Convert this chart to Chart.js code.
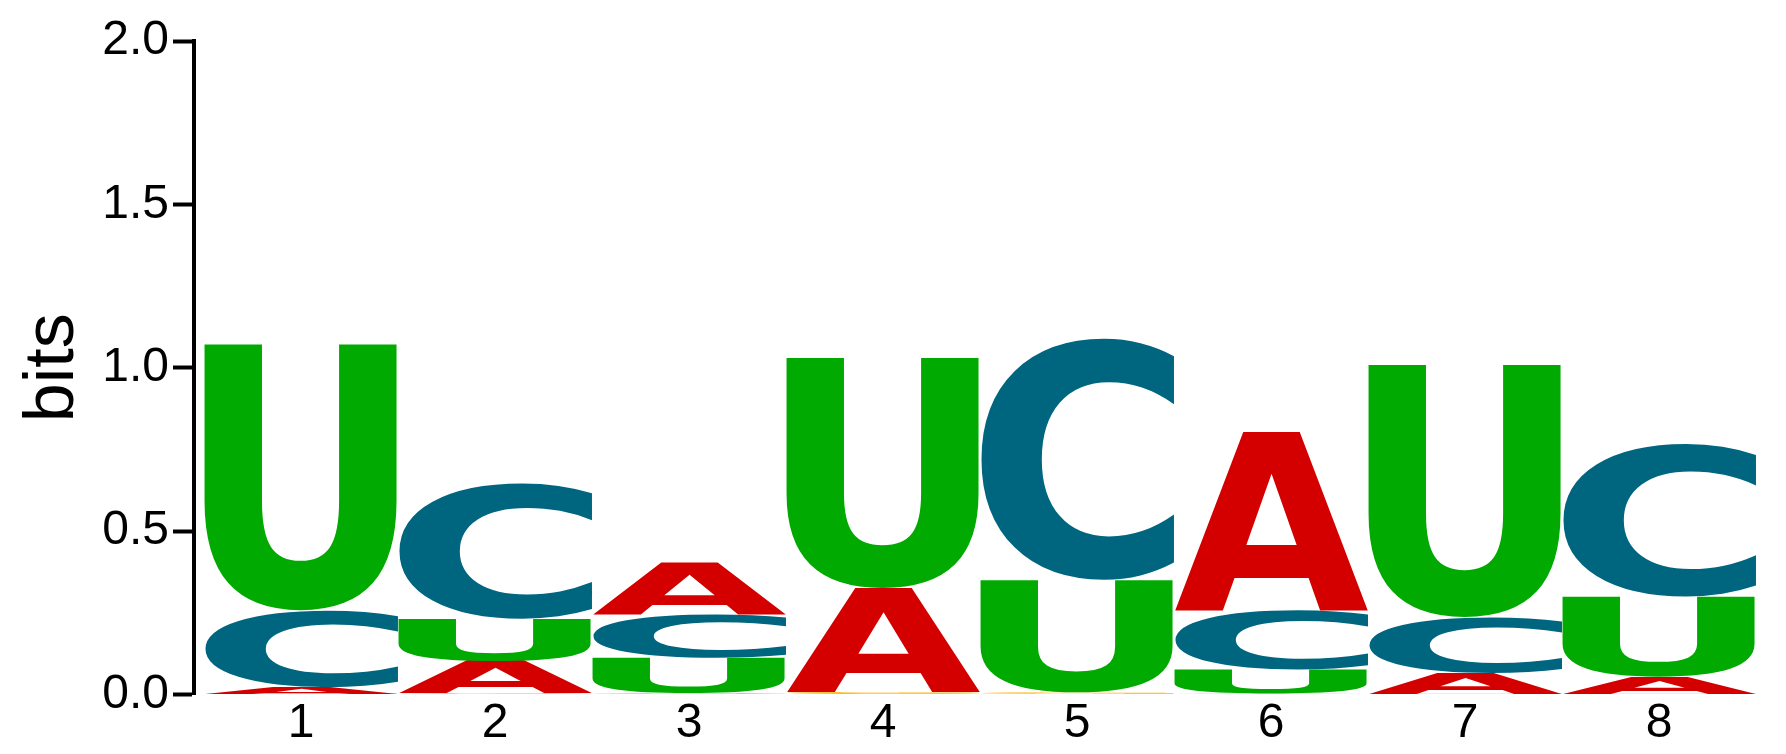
<!DOCTYPE html>
<html>
<head>
<meta charset="utf-8">
<script src="https://cdn.jsdelivr.net/npm/chart.js@4.4.1/dist/chart.umd.min.js"></script>
<style>
  html, body { margin: 0; padding: 0; background: #fff; }
  #wrap { width: 1786px; height: 754px; position: relative; }
</style>
</head>
<body>
<div id="wrap"><canvas id="logo"></canvas></div>
<script>
// positions along the motif
const positions = [1, 2, 3, 4, 5, 6, 7, 8];
const tickLabels = ["1", "2", "3", "4", "5", "6", "7", "8"];

// letter heights in bits, per position
const bitsA = [0.020, 0.098, 0.158, 0.318, 0.002, 0.545, 0.063, 0.052];
const bitsC = [0.235, 0.416, 0.133, 0.003, 0.741, 0.182, 0.171, 0.469];
const bitsG = [0.002, 0.004, 0.004, 0.004, 0.004, 0.003, 0.002, 0.002];
const bitsU = [0.815, 0.129, 0.108, 0.706, 0.344, 0.073, 0.773, 0.245];

const letterColors = { A: "#d40000", C: "#006680", G: "#ffb300", U: "#00aa00" };

const heights = { A: bitsA, C: bitsC, G: bitsG, U: bitsU };
const letters = Object.keys(heights);

// smallest letter at the bottom, biggest on top
const ranked = positions.map((p, i) =>
    letters.map(l => ({ l: l, v: heights[l][i] })).sort((a, b) => a.v - b.v)
);

const datasets = letters.map((_, r) => ({
    label: "rank " + r,
    data: positions.map((p, i) => ({ x: p, y: ranked[i][r].v })),
    letters: positions.map((p, i) => ranked[i][r].l),
    backgroundColor: "rgba(0,0,0,0)",
    borderWidth: 0,
    barPercentage: 1,
    categoryPercentage: 1
}));

const LETTER_FONT = 'bold 200px "DejaVu Sans", sans-serif';
const AXIS_FONT = '"Liberation Sans", Arial, sans-serif';

// draws every bar as a letter stretched to fill its box
const letterPlugin = {
    id: "logoLetters",
    afterDatasetsDraw(chart) {
        const ctx = chart.ctx;
        ctx.save();
        ctx.font = LETTER_FONT;
        ctx.textAlign = "left";
        ctx.textBaseline = "alphabetic";
        chart.data.datasets.forEach((ds, di) => {
            const meta = chart.getDatasetMeta(di);
            meta.data.forEach((el, j) => {
                const p = el.getProps(["x", "y", "base", "width"], true);
                const top = Math.min(p.y, p.base);
                const h = Math.abs(p.base - p.y);
                if (h <= 0) return;
                const ch = ds.letters[j];
                const m = ctx.measureText(ch);
                const gw = m.actualBoundingBoxLeft + m.actualBoundingBoxRight;
                const gh = m.actualBoundingBoxAscent + m.actualBoundingBoxDescent;
                ctx.save();
                ctx.translate(p.x - p.width / 2, top);
                ctx.scale(p.width / gw, h / gh);
                ctx.fillStyle = letterColors[ch];
                ctx.fillText(ch, m.actualBoundingBoxLeft, m.actualBoundingBoxAscent);
                ctx.restore();
            });
        });
        ctx.restore();
    }
};

const ctx = document.getElementById("logo").getContext("2d");
const chart = new Chart(ctx, {
    type: "bar",
    data: { datasets: datasets },
    plugins: [letterPlugin],
    options: {
        responsive: true,
        maintainAspectRatio: false,
        animation: false,
        layout: { padding: { left: 5, top: 41, right: 30, bottom: 0 } },
        plugins: {
            legend: { display: false },
            tooltip: { enabled: false }
        },
        scales: {
            x: {
                type: "linear",
                stacked: true,
                offset: false,
                min: 0.4485,
                max: 8.5,
                grid: { display: false, drawTicks: false, offset: false },
                border: { display: false },
                afterBuildTicks: (scale) => {
                    scale.ticks = positions.map(v => ({ value: v }));
                },
                ticks: {
                    color: "#000",
                    font: { family: AXIS_FONT, size: 48 },
                    padding: 1,
                    maxRotation: 0,
                    autoSkip: false,
                    callback: (v) => tickLabels[positions.indexOf(v)]
                }
            },
            y: {
                stacked: true,
                min: 0,
                max: 2,
                afterFit: (scale) => { scale.width = 189; },
                title: {
                    display: true,
                    text: "bits",
                    color: "#000",
                    font: { family: AXIS_FONT, size: 70 },
                    padding: { top: 7, bottom: 0 }
                },
                ticks: {
                    stepSize: 0.5,
                    color: "#000",
                    font: { family: AXIS_FONT, size: 48 },
                    padding: 4,
                    callback: (v) => v.toFixed(1)
                },
                grid: {
                    drawOnChartArea: false,
                    color: "#000",
                    tickLength: 21,
                    tickWidth: 4
                },
                border: { display: true, color: "#000", width: 4 }
            }
        }
    }
});
</script>
</body>
</html>
